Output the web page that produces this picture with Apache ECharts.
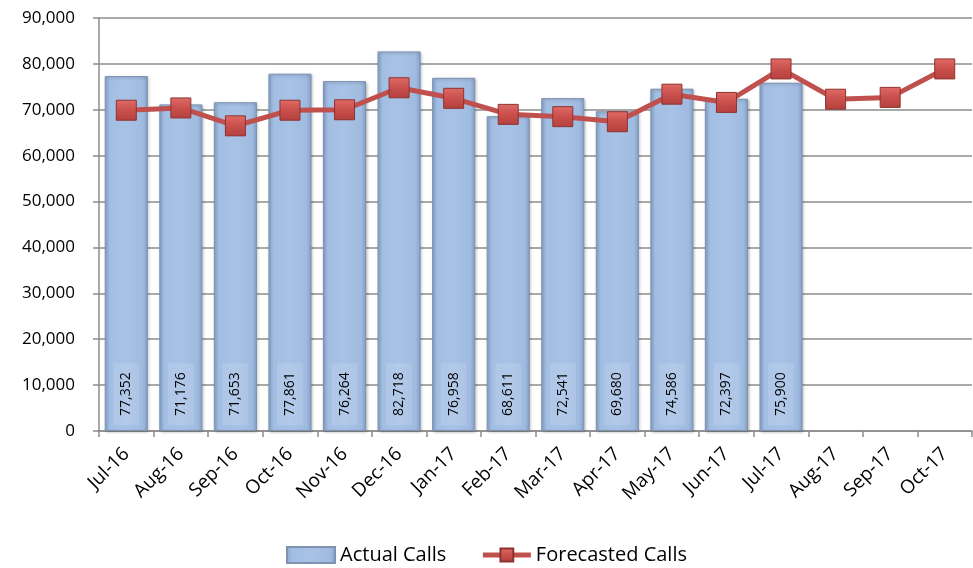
<!DOCTYPE html>
<html>
<head>
<meta charset="utf-8">
<script src="https://cdn.jsdelivr.net/npm/echarts@6/dist/echarts.min.js"></script>
<style>
  html, body { margin: 0; padding: 0; background: #fff; }
  #chart { width: 973px; height: 568px; }
</style>
</head>
<body>
<div id="chart"></div>
<script>
// Monthly call volumes
const months = ['Jul-16','Aug-16','Sep-16','Oct-16','Nov-16','Dec-16','Jan-17','Feb-17',
                'Mar-17','Apr-17','May-17','Jun-17','Jul-17','Aug-17','Sep-17','Oct-17'];
const actualCalls = [77352, 71176, 71653, 77861, 76264, 82718, 76958, 68611,
                     72541, 69680, 74586, 72397, 75900, null, null, null];
const forecastedCalls = [69900, 70400, 66500, 69900, 70000, 74800, 72500, 69000,
                         68500, 67400, 73400, 71600, 78900, 72300, 72700, 78900];
const yTicks = { min: 0, max: 90000, interval: 10000 };

const FONT = '"Open Sans", "Noto Sans", sans-serif';
const chart = echarts.init(document.getElementById('chart'), null, { renderer: 'canvas' });

const barFill = new echarts.graphic.LinearGradient(0, 0, 1, 0, [
  { offset: 0, color: '#8ba8cf' },
  { offset: 0.12, color: '#a3bee3' },
  { offset: 0.5, color: '#a8c2e6' },
  { offset: 0.88, color: '#a0bbe0' },
  { offset: 1, color: '#86a2c9' }
]);
const markerFill = new echarts.graphic.LinearGradient(0, 0, 0, 1, [
  { offset: 0, color: '#e06b67' },
  { offset: 0.5, color: '#c9504c' },
  { offset: 1, color: '#b4403d' }
]);

chart.setOption({
  animation: false,
  textStyle: { fontFamily: FONT },
  grid: { left: 99, right: 1, top: 18, bottom: 137, containLabel: false },
  legend: {
    bottom: -2,
    left: 'center',
    itemGap: 34,
    itemWidth: 48,
    itemHeight: 16,
    textStyle: { fontSize: 20, color: '#000', fontFamily: FONT },
    data: [
      { name: 'Actual Calls', icon: 'rect' },
      { name: 'Forecasted Calls', lineStyle: { width: 5, color: '#c0504d' } }
    ]
  },
  xAxis: {
    type: 'category',
    data: months,
    boundaryGap: true,
    axisLine: { lineStyle: { color: '#8c8c8c', width: 1.5 } },
    axisTick: { show: true, length: 6, lineStyle: { color: '#8c8c8c', width: 1.5 } },
    axisLabel: { rotate: 45, fontSize: 19, color: '#000', margin: 20, fontFamily: FONT, interval: 0 }
  },
  yAxis: {
    type: 'value',
    min: yTicks.min, max: yTicks.max, interval: yTicks.interval,
    axisLine: { show: true, lineStyle: { color: '#8c8c8c', width: 1.5 } },
    axisTick: { show: true, length: 6, lineStyle: { color: '#8c8c8c', width: 1.5 } },
    splitLine: { show: true, lineStyle: { color: '#8c8c8c', width: 1.5 } },
    axisLabel: {
      fontSize: 17, color: '#000', margin: 24, fontFamily: FONT,
      formatter: v => v.toLocaleString('en-US')
    }
  },
  series: [
    {
      name: 'Actual Calls',
      type: 'bar',
      data: actualCalls,
      barWidth: '79%',
      itemStyle: {
        color: barFill,
        borderColor: '#7e93b0',
        borderWidth: 1,
        shadowColor: 'rgba(0,0,0,0.25)',
        shadowBlur: 3,
        shadowOffsetX: 1,
        shadowOffsetY: 1
      },
      label: {
        show: true,
        position: 'insideBottom',
        distance: 6,
        rotate: 90,
        align: 'left',
        verticalAlign: 'middle',
        fontSize: 14,
        color: '#000',
        fontFamily: FONT,
        backgroundColor: 'rgba(255,255,255,0.12)',
        padding: [6, 9, 6, 9],
        formatter: p => p.value.toLocaleString('en-US')
      },
      z: 2
    },
    {
      name: 'Forecasted Calls',
      type: 'line',
      data: forecastedCalls,
      symbol: 'rect',
      symbolSize: 20,
      lineStyle: { color: '#c0504d', width: 5 },
      itemStyle: { color: markerFill, borderColor: '#8e3331', borderWidth: 1 },
      z: 3
    }
  ]
});
</script>
</body>
</html>
